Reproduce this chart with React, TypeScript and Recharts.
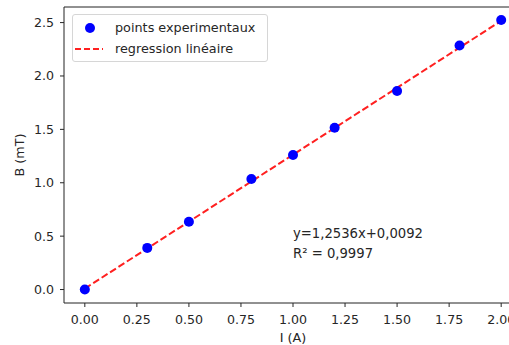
import {
  ComposedChart,
  Scatter,
  Line,
  XAxis,
  YAxis,
  Legend,
  ReferenceArea,
  ReferenceDot,
} from "recharts";

// measured points
const currents = [0, 0.3, 0.5, 0.8, 1.0, 1.2, 1.5, 1.8, 2.0];
const fields = [0, 0.39, 0.635, 1.035, 1.26, 1.515, 1.86, 2.285, 2.525];

// fitted line endpoints
const fitX = [0, 2];
const fitY = [0.0092, 2.5164];

const xTicks = [0, 0.25, 0.5, 0.75, 1.0, 1.25, 1.5, 1.75, 2.0];
const yTicks = [0, 0.5, 1.0, 1.5, 2.0, 2.5];
const xDomain = [-0.1, 2.1];
const yDomain = [-0.126, 2.646];

const fitText = ["y=1,2536x+0,0092", "R\u00b2 = 0,9997"];

const points = currents.map((x, i) => ({ x, y: fields[i] }));
const fitLine = fitX.map((x, i) => ({ x, fit: fitY[i] }));

const font = "'DejaVu Sans', sans-serif";
const ink = "#262626";

function LegendBox() {
  return (
    <div
      style={{
        border: "1px solid #d6d6d6",
        borderRadius: 3,
        background: "rgba(255,255,255,0.8)",
        padding: "2px 12px 2px 2px",
        fontFamily: font,
        fontSize: 12.8,
        color: ink,
        lineHeight: "21px",
      }}
    >
      <div style={{ display: "flex", alignItems: "center" }}>
        <svg width={40} height={12}>
          <circle cx={15} cy={6} r={5} fill="#0000ff" />
        </svg>
        <span>points experimentaux</span>
      </div>
      <div style={{ display: "flex", alignItems: "center" }}>
        <svg width={40} height={12}>
          <line x1={0} y1={6} x2={28} y2={6} stroke="#ff2020" strokeWidth={2} strokeDasharray="6 3" />
        </svg>
        <span>regression linéaire</span>
      </div>
    </div>
  );
}

export default function App() {
  return (
    <div
      style={{
        position: "fixed",
        left: 0,
        top: 0,
        width: 509,
        height: 345,
        overflow: "hidden",
        background: "#fff",
      }}
    >
      <ComposedChart
        width={540}
        height={345}
        margin={{ top: 7, right: 18, left: 0, bottom: 0 }}
      >
        <XAxis
          type="number"
          dataKey="x"
          domain={xDomain}
          ticks={xTicks}
          allowDataOverflow
          tickFormatter={(v) => v.toFixed(2)}
          height={42}
          tickSize={4}
          tickMargin={8}
          axisLine={false}
          tickLine={{ stroke: ink }}
          tick={{ fill: ink, fontSize: 12.6, fontFamily: font }}
          label={(props: any) => {
            const vb = props.viewBox;
            return (
              <text
                x={vb.x + vb.width / 2}
                y={342}
                textAnchor="middle"
                fill={ink}
                fontSize={12.8}
                fontFamily={font}
              >
                I (A)
              </text>
            );
          }}
        />
        <YAxis
          type="number"
          domain={yDomain}
          ticks={yTicks}
          allowDataOverflow
          tickFormatter={(v) => v.toFixed(1)}
          width={64}
          tickSize={4}
          tickMargin={6}
          axisLine={false}
          tickLine={{ stroke: ink }}
          tick={{ fill: ink, fontSize: 12.6, fontFamily: font }}
          label={(props: any) => {
            const vb = props.viewBox;
            const cy = vb.y + vb.height / 2;
            return (
              <text
                x={24}
                y={cy}
                transform={`rotate(-90 24 ${cy})`}
                textAnchor="middle"
                fill={ink}
                fontSize={12.8}
                fontFamily={font}
              >
                B (mT)
              </text>
            );
          }}
        />
        <ReferenceArea
          x1={xDomain[0]}
          x2={xDomain[1]}
          y1={yDomain[0]}
          y2={yDomain[1]}
          fill="none"
          stroke="#222"
          strokeWidth={1}
          ifOverflow="visible"
        />
        <Scatter
          data={points}
          dataKey="y"
          fill="#0000ff"
          shape={(p: any) => <circle cx={p.cx} cy={p.cy} r={5} fill="#0000ff" />}
          isAnimationActive={false}
        />
        <Line
          data={fitLine}
          dataKey="fit"
          stroke="#ff2020"
          strokeWidth={2}
          strokeDasharray="7 3"
          dot={false}
          activeDot={false}
          isAnimationActive={false}
        />
        <ReferenceDot
          x={1}
          y={0.3}
          r={0}
          ifOverflow="visible"
          label={(props: any) => {
            const vb = props.viewBox;
            return (
              <text fill={ink} fontSize={13.2} fontFamily={font}>
                <tspan x={vb.x} y={vb.y - 20}>{fitText[0]}</tspan>
                <tspan x={vb.x} y={vb.y}>{fitText[1]}</tspan>
              </text>
            );
          }}
        />
        <Legend
          layout="horizontal"
          verticalAlign="middle"
          align="center"
          wrapperStyle={{ left: 72, top: 14, width: "auto", height: "auto" }}
          content={() => <LegendBox />}
        />
      </ComposedChart>
    </div>
  );
}
